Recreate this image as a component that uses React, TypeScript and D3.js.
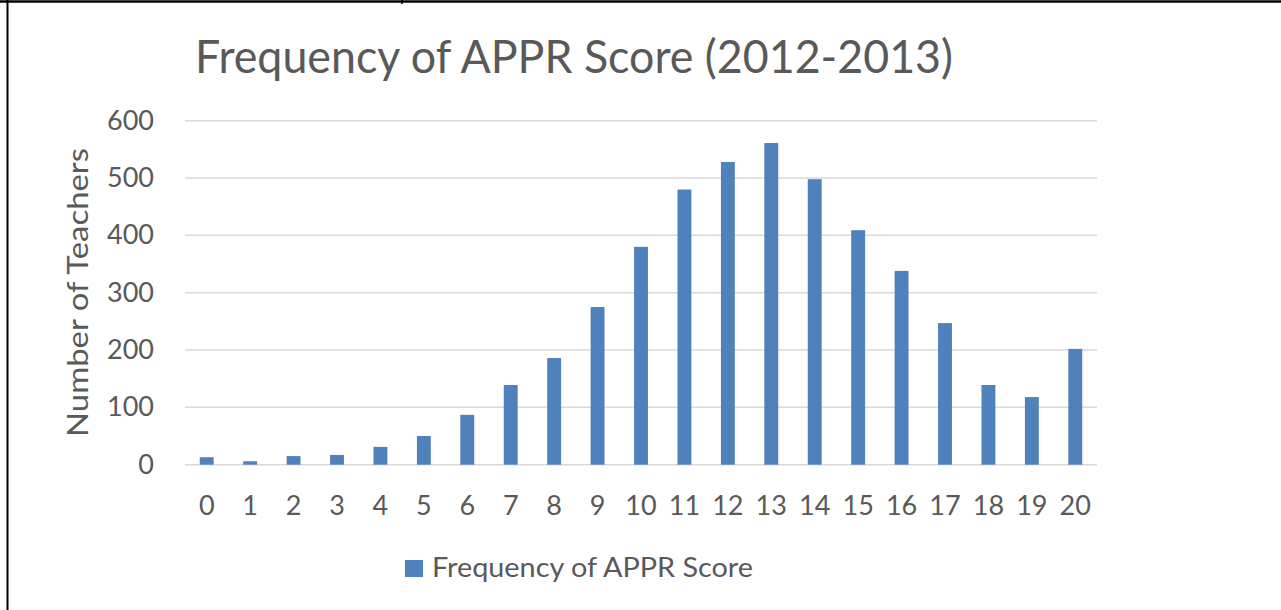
import React, { useEffect, useRef } from "react";
import * as d3 from "d3";

// scores 0..20 and teacher counts
const scores = ["0", "1", "2", "3", "4", "5", "6", "7", "8", "9", "10", "11", "12", "13", "14", "15", "16", "17", "18", "19", "20"];
const teachers = [13, 6, 15, 17, 31, 50, 87, 139, 186, 275, 380, 480, 528, 561, 498, 409, 338, 247, 139, 118, 202];
const yTicks = [0, 100, 200, 300, 400, 500, 600];

const titleText = "Frequency of APPR Score (2012-2013)";
const yTitle = "Number of Teachers";
const seriesName = "Frequency of APPR Score";

const W = 1281;
const H = 610;
const plot = { left: 185, right: 1097, top: 120.7, bottom: 464.7 };
const font = "Lato, 'Open Sans', sans-serif";
const textColor = "#595959";
const barColor = "#4f81bd";

const App = () => {
  const svgRef = useRef<SVGSVGElement>(null);

  useEffect(() => {
    const svg = d3.select(svgRef.current);

    const x = d3
      .scaleBand()
      .domain(scores)
      .range([plot.left, plot.right])
      .paddingInner(0.68)
      .paddingOuter(0.34);

    const y = d3.scaleLinear().domain([0, 600]).range([plot.bottom, plot.top]);

    // gridlines
    svg
      .select(".grid")
      .selectAll("line")
      .data(yTicks)
      .join("line")
      .attr("x1", plot.left)
      .attr("x2", plot.right)
      .attr("y1", (d) => y(d))
      .attr("y2", (d) => y(d))
      .attr("stroke", "#d9d9d9")
      .attr("stroke-width", 1.5);

    // y tick labels
    svg
      .select(".y-axis")
      .selectAll("text")
      .data(yTicks)
      .join("text")
      .attr("x", 154)
      .attr("y", (d) => y(d) + 9)
      .attr("text-anchor", "end")
      .attr("font-size", 27)
      .attr("font-family", font)
      .attr("fill", textColor)
      .text((d) => d);

    // x tick labels
    svg
      .select(".x-axis")
      .selectAll("text")
      .data(scores)
      .join("text")
      .attr("x", (d) => (x(d) as number) + x.bandwidth() / 2)
      .attr("y", 515)
      .attr("text-anchor", "middle")
      .attr("font-size", 27)
      .attr("font-family", font)
      .attr("fill", textColor)
      .text((d) => d);

    // bars
    svg
      .select(".bars")
      .selectAll("rect")
      .data(teachers)
      .join("rect")
      .attr("x", (d, i) => x(scores[i]) as number)
      .attr("y", (d) => y(d))
      .attr("width", x.bandwidth())
      .attr("height", (d) => y(0) - y(d))
      .attr("fill", barColor);
  }, []);

  return (
    <svg
      ref={svgRef}
      width={W}
      height={H}
      style={{ position: "absolute", left: 0, top: 0, background: "#fff" }}
    >
      <rect x={0} y={0} width={W} height={H} fill="#fff" />
      {/* page borders */}
      <line x1={0} x2={W} y1={1.5} y2={1.5} stroke="#000" strokeWidth={2.5} />
      <line x1={7.5} x2={7.5} y1={0} y2={H} stroke="#000" strokeWidth={2} />
      <line x1={402} x2={402} y1={0} y2={4} stroke="#000" strokeWidth={1.5} />

      <text
        x={195}
        y={73}
        fontSize={46}
        fontFamily={font}
        fill={textColor}
        textLength={758}
        lengthAdjust="spacingAndGlyphs"
      >
        {titleText}
      </text>

      <g className="grid" />
      <g className="bars" />
      <g className="y-axis" />
      <g className="x-axis" />

      <text
        transform="translate(88, 292.5) rotate(-90)"
        textAnchor="middle"
        fontSize={28}
        fontFamily={font}
        fill={textColor}
        textLength={289}
        lengthAdjust="spacingAndGlyphs"
      >
        {yTitle}
      </text>

      {/* legend */}
      <rect x={405} y={560} width={18} height={17} fill={barColor} />
      <text
        x={432}
        y={577}
        fontSize={27}
        fontFamily={font}
        fill={textColor}
        textLength={321}
        lengthAdjust="spacingAndGlyphs"
      >
        {seriesName}
      </text>
    </svg>
  );
};

export default App;
